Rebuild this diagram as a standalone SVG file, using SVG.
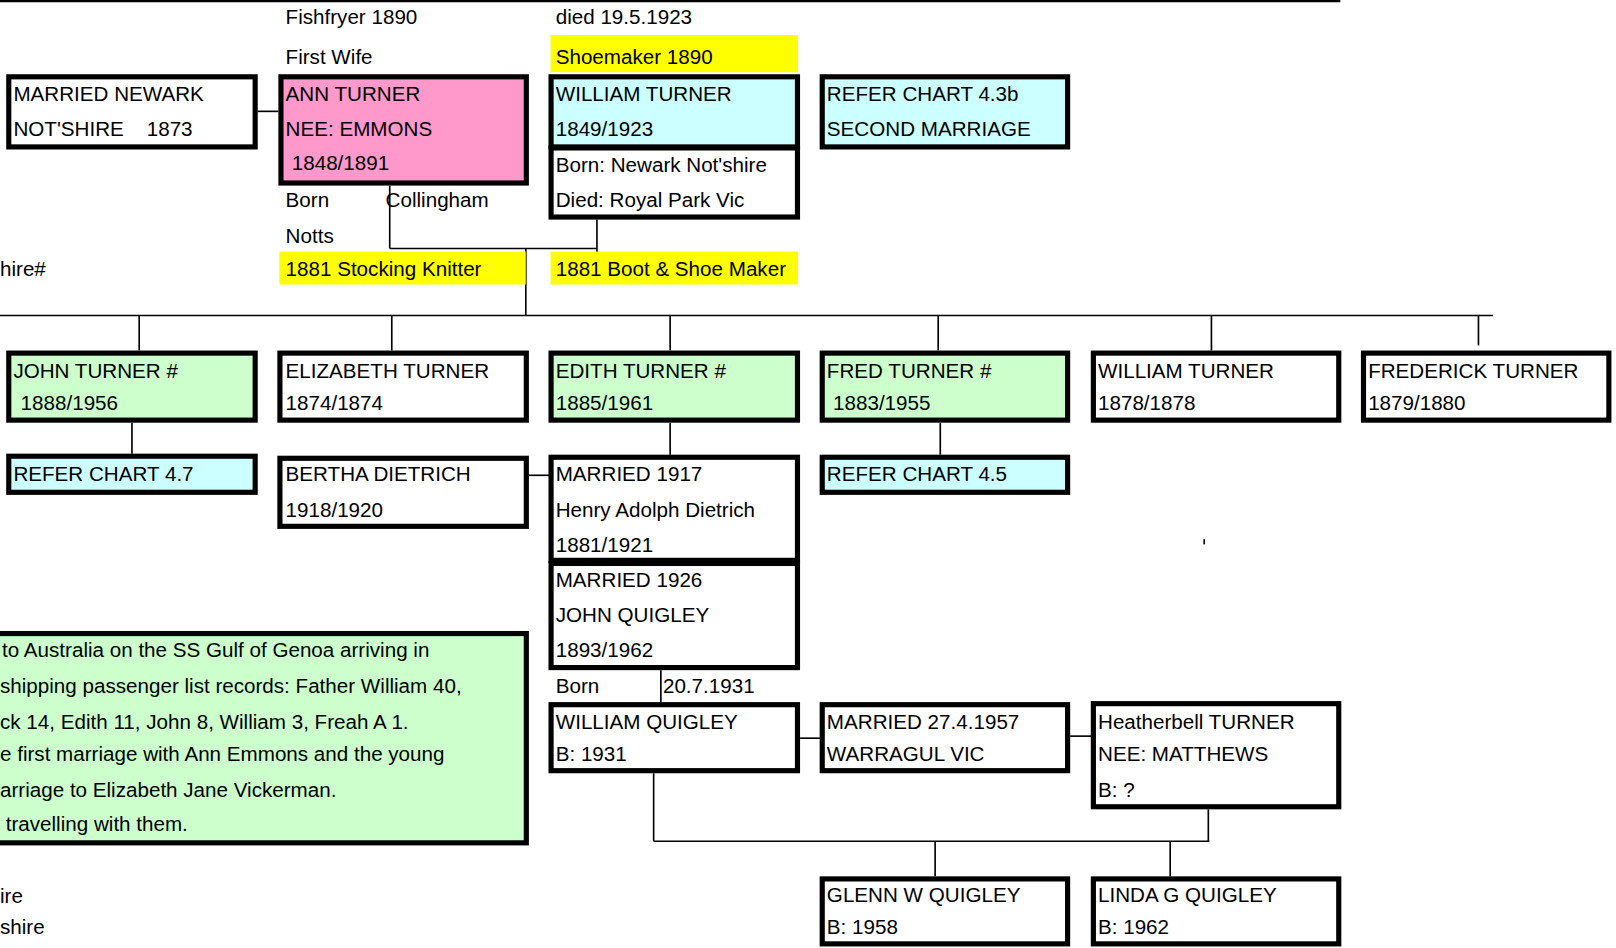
<svg xmlns="http://www.w3.org/2000/svg" width="1616" height="948" viewBox="0 0 1616 948">
<style>
text{font-family:"Liberation Sans",Arial,sans-serif;font-size:20px;fill:#000}
.box{stroke:#000;stroke-width:5}
.w{fill:#fff}.g{fill:#CCFFCC}.c{fill:#CCFFFF}.p{fill:#FF99CC}.y{fill:#FFFF00}
.ln{stroke:#000;stroke-width:1.6;fill:none}
</style>
<rect width="1616" height="948" fill="#fff"/>
<g transform="scale(1.031)">
<line x1="0" y1="1" x2="1300" y2="1" stroke="#000" stroke-width="2.5"/>
<g id="connectors">
<line class="ln" x1="250" y1="108" x2="270" y2="108"/>
<line class="ln" x1="378" y1="180" x2="378" y2="241"/>
<line class="ln" x1="378" y1="241" x2="579" y2="241"/>
<line class="ln" x1="579" y1="213" x2="579" y2="245"/>
<line class="ln" x1="510" y1="241" x2="510" y2="306"/>
<line class="ln" x1="0" y1="306" x2="1448" y2="306" stroke="#333" stroke-width="2"/>
<line class="ln" x1="135" y1="306" x2="135" y2="340"/>
<line class="ln" x1="380" y1="306" x2="380" y2="340"/>
<line class="ln" x1="650" y1="306" x2="650" y2="340" stroke-width="2.4"/>
<line class="ln" x1="910" y1="306" x2="910" y2="340"/>
<line class="ln" x1="1175" y1="306" x2="1175" y2="340"/>
<line class="ln" x1="1434" y1="306" x2="1434" y2="335"/>
<line class="ln" x1="128" y1="410" x2="128" y2="440"/>
<line class="ln" x1="650" y1="410" x2="650" y2="441"/>
<line class="ln" x1="912" y1="410" x2="912" y2="441"/>
<line class="ln" x1="513" y1="461" x2="534" y2="461"/>
<line class="ln" x1="641" y1="650" x2="641" y2="681"/>
<line class="ln" x1="776" y1="716" x2="797" y2="716"/>
<line class="ln" x1="1038" y1="714" x2="1060" y2="714"/>
<line class="ln" x1="634" y1="750" x2="634" y2="816"/>
<line class="ln" x1="634" y1="816" x2="1173" y2="816"/>
<line class="ln" x1="1172" y1="785" x2="1172" y2="816"/>
<line class="ln" x1="907" y1="816" x2="907" y2="850"/>
<line class="ln" x1="1135" y1="816" x2="1135" y2="850"/>
<line class="ln" x1="1168" y1="523" x2="1168" y2="528" stroke-width="2"/>
</g>
<g id="labels">
<text x="277" y="23">Fishfryer 1890</text>
<text x="277" y="62">First Wife</text>
<text x="539" y="23">died 19.5.1923</text>
<text x="277" y="201">Born</text>
<text x="374" y="201">Collingham</text>
<text x="277" y="236">Notts</text>
<text x="0" y="268">hire#</text>
<text x="539" y="672">Born</text>
<text x="643" y="672">20.7.1931</text>
<text x="0" y="876">ire</text>
<text x="0" y="906">shire</text>
</g>
<g id="shoemaker1890"><rect class="y" x="534" y="34" width="240" height="36"/><text x="539" y="62">Shoemaker 1890</text></g>
<g id="stockingKnitter"><rect class="y" x="271" y="244" width="239" height="32"/><text x="277" y="268">1881 Stocking Knitter</text></g>
<g id="bootShoeMaker"><rect class="y" x="534" y="244" width="240" height="32"/><text x="539" y="268">1881 Boot &amp; Shoe Maker</text></g>
<g id="marriedNewark"><rect class="box w" x="8.5" y="74.5" width="239" height="68"/><text x="13" y="98">MARRIED NEWARK</text><text x="13" y="132" xml:space="preserve">NOT'SHIRE    1873</text></g>
<g id="annTurner"><rect class="box p" x="272.5" y="74.5" width="238" height="103"/><text x="277" y="98">ANN TURNER</text><text x="277" y="132">NEE: EMMONS</text><text x="283" y="165">1848/1891</text></g>
<g id="williamBorn"><rect class="box w" x="534.5" y="143.5" width="239" height="67"/><text x="539" y="167">Born: Newark Not'shire</text><text x="539" y="201">Died: Royal Park Vic</text></g>
<g id="williamTurner"><rect class="box c" x="534.5" y="74.5" width="239" height="68"/><text x="539" y="98">WILLIAM TURNER</text><text x="539" y="132">1849/1923</text></g>
<g id="refer43b"><rect class="box c" x="797.5" y="74.5" width="238" height="68"/><text x="802" y="98">REFER CHART 4.3b</text><text x="802" y="132">SECOND MARRIAGE</text></g>
<g id="johnTurner"><rect class="box g" x="8.5" y="342.5" width="239" height="65"/><text x="13" y="367">JOHN TURNER #</text><text x="20" y="398">1888/1956</text></g>
<g id="elizabethTurner"><rect class="box w" x="271.5" y="342.5" width="239" height="65"/><text x="277" y="367">ELIZABETH TURNER</text><text x="277" y="398">1874/1874</text></g>
<g id="edithTurner"><rect class="box g" x="534.5" y="342.5" width="239" height="65"/><text x="539" y="367">EDITH TURNER #</text><text x="539" y="398">1885/1961</text></g>
<g id="fredTurner"><rect class="box g" x="797.5" y="342.5" width="238" height="65"/><text x="802" y="367">FRED TURNER #</text><text x="808" y="398">1883/1955</text></g>
<g id="williamTurner2"><rect class="box w" x="1060.5" y="342.5" width="238" height="65"/><text x="1065" y="367">WILLIAM TURNER</text><text x="1065" y="398">1878/1878</text></g>
<g id="frederickTurner"><rect class="box w" x="1322.5" y="342.5" width="238" height="65"/><text x="1327" y="367">FREDERICK TURNER</text><text x="1327" y="398">1879/1880</text></g>
<g id="refer47"><rect class="box c" x="8.5" y="442.5" width="239" height="35"/><text x="13" y="467">REFER CHART 4.7</text></g>
<g id="berthaDietrich"><rect class="box w" x="271.5" y="444.5" width="239" height="66"/><text x="277" y="467">BERTHA DIETRICH</text><text x="277" y="501">1918/1920</text></g>
<g id="married1917"><rect class="box w" x="534.5" y="443.5" width="239" height="100"/><text x="539" y="467">MARRIED 1917</text><text x="539" y="501">Henry Adolph Dietrich</text><text x="539" y="535">1881/1921</text></g>
<g id="married1926"><rect class="box w" x="534.5" y="546.5" width="239" height="101"/><text x="539" y="569">MARRIED 1926</text><text x="539" y="603">JOHN QUIGLEY</text><text x="539" y="637">1893/1962</text></g>
<g id="refer45"><rect class="box c" x="797.5" y="443.5" width="238" height="34"/><text x="802" y="467">REFER CHART 4.5</text></g>
<g id="note"><rect class="box g" x="-7.5" y="614.5" width="518" height="203"/>
<text x="2" y="637">to Australia on the SS Gulf of Genoa arriving in</text>
<text x="0" y="672">shipping passenger list records: Father William 40,</text>
<text x="0" y="707">ck 14, Edith 11, John 8, William 3, Freah A 1.</text>
<text x="0" y="738">e first marriage with Ann Emmons and the young</text>
<text x="0" y="773">arriage to Elizabeth Jane Vickerman.</text>
<text x="0" y="806" xml:space="preserve"> travelling with them.</text></g>
<g id="williamQuigley"><rect class="box w" x="534.5" y="683.5" width="239" height="64"/><text x="539" y="707">WILLIAM QUIGLEY</text><text x="539" y="738">B: 1931</text></g>
<g id="married1957"><rect class="box w" x="797.5" y="683.5" width="238" height="64"/><text x="802" y="707">MARRIED 27.4.1957</text><text x="802" y="738">WARRAGUL VIC</text></g>
<g id="heatherbell"><rect class="box w" x="1060.5" y="682.5" width="238" height="100"/><text x="1065" y="707">Heatherbell TURNER</text><text x="1065" y="738">NEE: MATTHEWS</text><text x="1065" y="773">B: ?</text></g>
<g id="glennQuigley"><rect class="box w" x="797.5" y="852.5" width="238" height="63"/><text x="802" y="875">GLENN W QUIGLEY</text><text x="802" y="906">B: 1958</text></g>
<g id="lindaQuigley"><rect class="box w" x="1060.5" y="852.5" width="238" height="63"/><text x="1065" y="875">LINDA G QUIGLEY</text><text x="1065" y="906">B: 1962</text></g>
</g>
</svg>
